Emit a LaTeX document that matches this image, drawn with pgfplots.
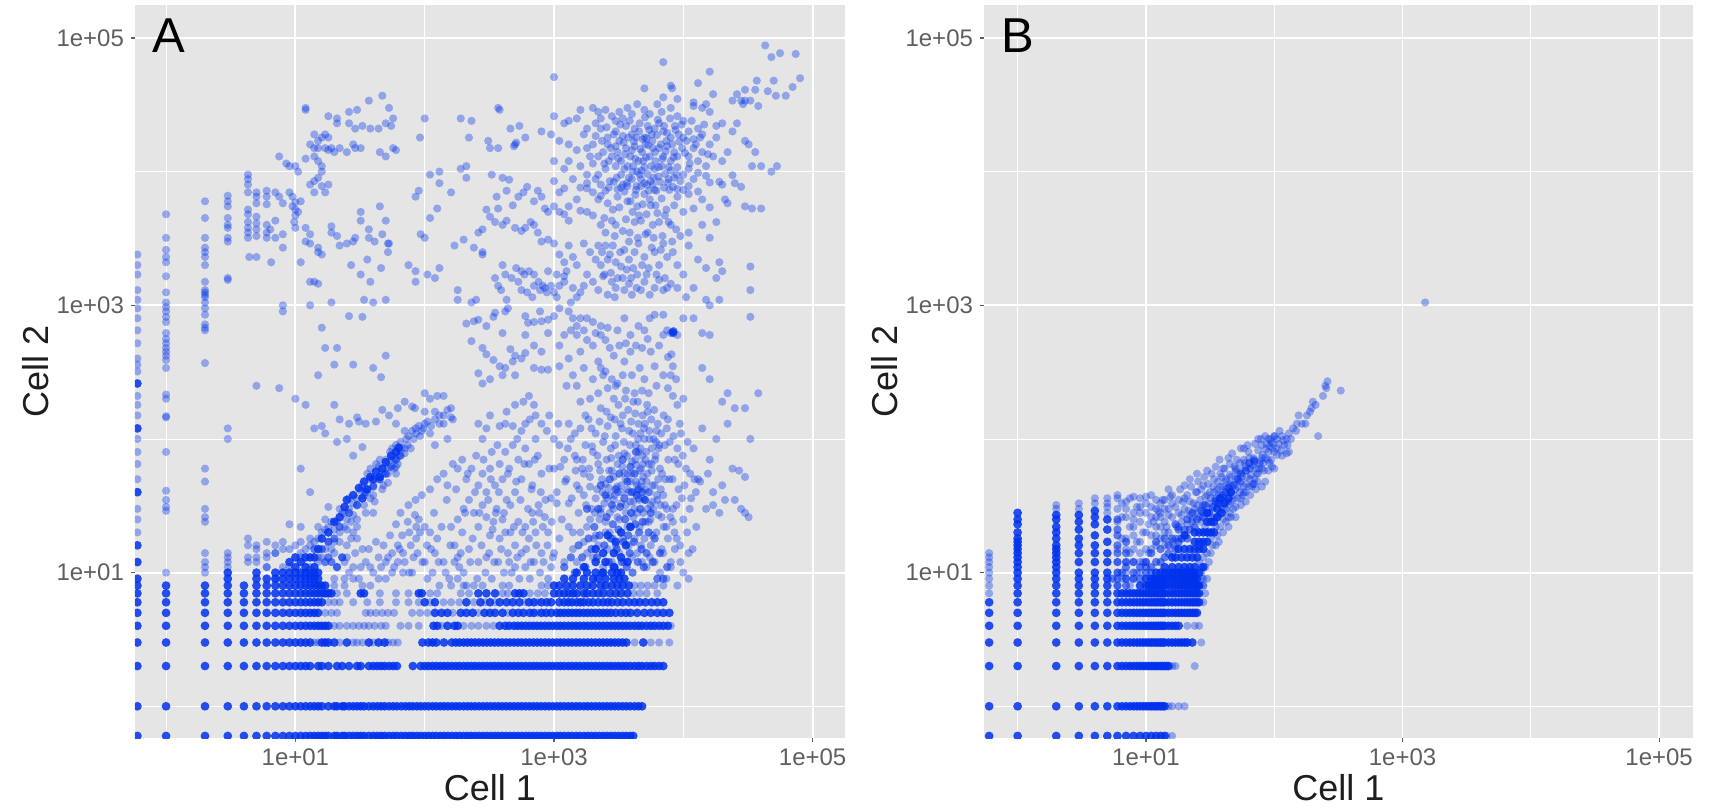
\documentclass[border=0pt]{standalone}
\usepackage{fontspec}
\setmainfont{Liberation Sans}
\usepackage{pgfplots}
\pgfplotsset{compat=1.18}
\definecolor{cblue}{RGB}{0,50,238}
\definecolor{tickc}{RGB}{95,95,95}
\definecolor{labc}{RGB}{30,30,30}
\pgfplotsset{
  lite/.style={only marks,color=cblue,mark=*,mark size=2.05pt,forget plot,
    mark options={draw=cblue,draw opacity=0,fill=cblue,fill opacity=0.36}},
  mid/.style={only marks,color=cblue,mark=*,mark size=2.1pt,forget plot,
    mark options={draw=cblue,draw opacity=0,fill=cblue,fill opacity=0.6}},
  dense/.style={only marks,color=cblue,mark=*,mark size=2.2pt,forget plot,
    mark options={draw=cblue,draw opacity=0,fill=cblue,fill opacity=0.85}},
}
\begin{document}
\begin{tikzpicture}
\path[use as bounding box] (0,0) rectangle (854.5pt,405pt);
\begin{axis}[scale only axis, width=355pt, height=366.5pt,
    xmode=log, ymode=log,
    ymin=0.579, ymax=176600,
    xtick={10,1000,100000}, xticklabels={1e+01,1e+03,1e+05},
    ytick={10,1000,100000}, yticklabels={1e+01,1e+03,1e+05},
    minor xtick={1,100,10000}, minor ytick={1,100,10000},
    grid=both,
    major grid style={white,line width=0.9pt},
    minor grid style={white,line width=0.45pt},
    axis background/.style={fill=black!10},
    axis line style={draw=none},
    xtick pos=bottom, ytick pos=left, tick align=outside,
    major tick length=2pt, minor tick length=0pt,
    tick style={tickc,line width=0.6pt},
    tick label style={font=\fontsize{12}{12}\selectfont,text=tickc},
    xlabel={Cell 1}, ylabel={Cell 2},
    label style={font=\fontsize{18}{18}\selectfont,text=labc},
    xlabel style={at={(axis description cs:0.5,0)},anchor=north,yshift=-18pt,inner sep=0pt},
    ylabel style={at={(axis description cs:0,0.5)},anchor=south,yshift=43pt,inner sep=0pt},
    clip marker paths=true,
    at={(67.5pt,36pt)},anchor=south west,xmin=0.575,xmax=178000,/pgf/number format/assume math mode=true]
\addplot[dense] coordinates {
(0.6,0.6)(1,0.6)(2,0.6)(3,0.6)(4,0.6)(5,0.6)(6,0.6)(7,0.6)(8,0.6)(9,0.6)(10,0.6)(11,0.6)(12,0.6)(13,0.6)(14,0.6)(15,0.6)(16,0.6)(17,0.6)(18,0.6)(20,0.6)(21,0.6)(23,0.6)(24,0.6)(26,0.6)(28,0.6)(30,0.6)(32,0.6)(34,0.6)(37,0.6)(40,0.6)(43,0.6)(46,0.6)(49,0.6)(53,0.6)(57,0.6)(61,0.6)(66,0.6)(71,0.6)(76,0.6)(81,0.6)(87,0.6)(93,0.6)(100,0.6)(107,0.6)(115,0.6)(123,0.6)(132,0.6)(141,0.6)(151,0.6)(162,0.6)(174,0.6)(186,0.6)(200,0.6)(214,0.6)(229,0.6)(245,0.6)(263,0.6)(282,0.6)(302,0.6)(324,0.6)(347,0.6)(372,0.6)(398,0.6)(427,0.6)(457,0.6)(490,0.6)(525,0.6)(562,0.6)(603,0.6)(646,0.6)(692,0.6)(741,0.6)(794,0.6)(851,0.6)(912,0.6)(977,0.6)(1050,0.6)(1120,0.6)(1200,0.6)(1290,0.6)(1380,0.6)(1480,0.6)(1580,0.6)(1700,0.6)(1820,0.6)(1950,0.6)(2090,0.6)(2240,0.6)(2400,0.6)(2570,0.6)(2750,0.6)(2950,0.6)(3160,0.6)(3390,0.6)(3630,0.6)(3890,0.6)(4100,0.6)
(0.6,1)(1,1)(2,1)(3,1)(4,1)(5,1)(6,1)(7,1)(8,1)(9,1)(10,1)(11,1)(12,1)(13,1)(14,1)(15,1)(16,1)(18,1)(20,1)(21,1)(23,1)(24,1)(26,1)(28,1)(30,1)(32,1)(34,1)(37,1)(40,1)(43,1)(46,1)(49,1)(53,1)(57,1)(61,1)(66,1)(71,1)(76,1)(81,1)(87,1)(93,1)(100,1)(107,1)(115,1)(123,1)(132,1)(141,1)(151,1)(162,1)(174,1)(186,1)(200,1)(214,1)(229,1)(245,1)(263,1)(282,1)(302,1)(324,1)(347,1)(372,1)(398,1)(427,1)(457,1)(490,1)(525,1)(562,1)(603,1)(646,1)(692,1)(741,1)(794,1)(851,1)(912,1)(977,1)(1050,1)(1120,1)(1200,1)(1290,1)(1380,1)(1480,1)(1580,1)(1700,1)(1820,1)(1950,1)(2090,1)(2240,1)(2400,1)(2570,1)(2750,1)(2950,1)(3160,1)(3390,1)(3630,1)(3890,1)(4200,1)(4500,1)(4800,1)
(0.6,2)(1,2)(2,2)(3,2)(4,2)(5,2)(6,2)(7,2)(8,2)(9,2)(10,2)(11,2)(12,2)(13,2)(15,2)(16,2)(18,2)(21,2)(23,2)(26,2)(30,2)(32,2)(37,2)(40,2)(43,2)(46,2)(49,2)(53,2)(57,2)(61,2)(81,2)(93,2)(100,2)(107,2)(115,2)(123,2)(132,2)(141,2)(151,2)(162,2)(174,2)(186,2)(200,2)(214,2)(229,2)(245,2)(263,2)(282,2)(302,2)(324,2)(347,2)(372,2)(398,2)(427,2)(457,2)(490,2)(525,2)(562,2)(603,2)(646,2)(692,2)(741,2)(794,2)(851,2)(912,2)(977,2)(1050,2)(1120,2)(1200,2)(1290,2)(1380,2)(1480,2)(1580,2)(1700,2)(1820,2)(1950,2)(2090,2)(2240,2)(2400,2)(2570,2)(2750,2)(2950,2)(3160,2)(3390,2)(3630,2)(3890,2)(4200,2)(4500,2)(4800,2)(5200,2)(5600,2)(6000,2)(6500,2)(7000,2)
(0.6,3)(1,3)(2,3)(3,3)(4,3)(5,3)(6,3)(7,3)(8,3)(9,3)(10,3)(11,3)(12,3)(13,3)(16,3)(17,3)(18,3)(20,3)(25,3)(37,3)(44,3)(49,3)(96,3)(107,3)(115,3)(123,3)(141,3)(162,3)(174,3)(186,3)(200,3)(214,3)(229,3)(245,3)(263,3)(282,3)(302,3)(324,3)(347,3)(372,3)(398,3)(427,3)(457,3)(490,3)(525,3)(562,3)(603,3)(646,3)(692,3)(741,3)(794,3)(851,3)(912,3)(977,3)(1050,3)(1120,3)(1200,3)(1290,3)(1380,3)(1480,3)(1580,3)(1700,3)(1820,3)(1950,3)(2090,3)(2240,3)(2400,3)(2570,3)(2750,3)(2950,3)(3160,3)(3390,3)(3630,3)(4900,3)
(0.6,4)(1,4)(2,4)(3,4)(4,4)(5,4)(6,4)(7,4)(8,4)(9,4)(10,4)(11,4)(12,4)(13,4)(14,4)(15,4)(16,4)(17,4)(18,4)(117,4)(125,4)(150,4)(170,4)(180,4)(380,4)(420,4)(450,4)(490,4)(525,4)(562,4)(603,4)(646,4)(692,4)(741,4)(794,4)(851,4)(912,4)(977,4)(1050,4)(1120,4)(1200,4)(1290,4)(1380,4)(1480,4)(1580,4)(1700,4)(1820,4)(1950,4)(2090,4)(2240,4)(2400,4)(2570,4)(2750,4)(2950,4)(3160,4)(3390,4)(3630,4)(3890,4)(4200,4)(4500,4)(4800,4)(5200,4)(5600,4)(6000,4)(6500,4)(7000,4)(7600,4)
(0.6,5)(1,5)(2,5)(3,5)(4,5)(5,5)(6,5)(7,5)(8,5)(9,5)(10,5)(11,5)(12,5)(13,5)(14,5)(15,5)(120,5)(135,5)(150,5)(190,5)(210,5)(235,5)(290,5)(320,5)(350,5)(400,5)(480,5)(530,5)(580,5)(650,5)(700,5)(800,5)(870,5)(950,5)(1050,5)(1120,5)(1200,5)(1290,5)(1380,5)(1480,5)(1580,5)(1700,5)(1820,5)(1950,5)(2090,5)(2240,5)(2400,5)(2570,5)(2750,5)(3000,5)(3300,5)(3600,5)(3900,5)(4400,5)(5000,5)(5600,5)(6300,5)(7000,5)(7800,5)
(0.6,6)(1,6)(2,6)(3,6)(4,6)(5,6)(6,6)(7,6)(8,6)(9,6)(10,6)(11,6)(12,6)(13,6)(14,6)(15,6)(16,6)(100,6)(120,6)(210,6)(270,6)(320,6)(380,6)(430,6)(480,6)(540,6)(640,6)(700,6)(800,6)(880,6)(950,6)(1100,6)(1200,6)(1290,6)(1380,6)(1500,6)(1600,6)(1700,6)(1850,6)(2000,6)(2200,6)(2400,6)(2600,6)(2800,6)(3100,6)(3400,6)(3800,6)(4200,6)(4600,6)(5100,6)(5700,6)(6300,6)(7000,6)
(0.6,7)(2,7)(3,7)(4,7)(5,7)(6,7)(7,7)(8,7)(9,7)(10,7)(11,7)(12,7)(13,7)(14,7)(15,7)(16,7)(17,7)(18,7)(19,7)(32,7)(34,7)(90,7)(95,7)(260,7)(300,7)(350,7)(500,7)(540,7)(580,7)(1000,7)(1100,7)(1200,7)(1300,7)(1400,7)(1500,7)(1700,7)(1800,7)(2000,7)(2200,7)(2400,7)(2700,7)(3000,7)(3300,7)(3700,7)
(2,8)(3,8)(4,8)(5,8)(6,8)(7,8)(8,8)(9,8)(10,8)(11,8)(12,8)(13,8)(14,8)(15,8)(16,8)(17,8)(1000,8)(1100,8)(1250,8)(1400,8)(1600,8)(1800,8)(2000,8)(2300,8)(2500,8)(2800,8)(3100,8)(3400,8)(3800,8)
(3,9)(5,9)(6,9)(7,9)(8,9)(9,9)(10,9)(11,9)(12,9)(13,9)(14,9)(15,9)(1200,9)(1400,9)(1700,9)(2000,9)(2200,9)(2500,9)(2900,9)(3200,9)(3500,9)
(3,10)(5,10)(7,10)(8,10)(9,10)(10,10)(11,10)(12,10)(13,10)(14,10)(15,10)(1500,10)(1800,10)(2100,10)(2400,10)(2800,10)(3100,10)(3300,10)(2900,11)(2500,12)(2100,12)(1700,11)(2400,14)(2900,14)(3300,13)(3700,12)(3000,17)(3600,16)(3300,20)(3900,22)(2600,19)(2100,15)
(10,11)(11,12)(12,11)(13,13)(9,12)(14,11)(14,13)(12,13)(10,13)(15,15)(16,18)(18,20)(20,24)(22,26)(24,31)(25,35)(28,38)(31,43)(34,48)(38,52)(42,57)(47,60)(50,67)(55,75)(60,80)(63,86)(40,50)(45,52)(36,42)(33,36)
(0.6,8)(0.6,9)(0.6,12)(0.6,16)(0.6,40)(0.6,120)(0.6,260)(1,7)(1,8)
};
\addplot[mid] coordinates {
(1200,11)(1350,13)(1450,10)(1550,16)(1650,13)(1750,11)(1850,18)(1950,15)(2050,22)(2150,13)(2250,19)(2350,10)(2450,16)(2550,26)(2650,12)(2750,18)(2850,23)(2950,11)(3050,15)(3150,21)(3250,31)(3350,12)(3450,17)(3550,25)(3650,11)(3750,19)(3850,14)(3950,28)(4050,10)(4150,17)(4250,23)(4350,38)(4450,12)(4550,20)(4650,30)(4750,15)(4850,24)(4950,11)(5050,35)(5200,14)(5400,20)(5600,28)(5800,12)(6000,18)(6300,9)(6600,14)(7000,9)(7500,11)(2200,30)(2500,38)(2800,32)(3000,42)(3200,55)(3500,36)(3700,48)(4000,40)(4200,55)(4500,42)(4800,40)(3400,70)(3900,62)(4300,80)(2300,45)(2700,50)(1800,30)
(8300,630)(8400,640)(8350,620)(21,11)(23,13)(18,13)(16,15)(20,18)(22,22)(26,28)(30,32)(35,40)(40,44)(45,50)(50,55)(55,62)(60,70)(65,75)(14,15)(18,17)(17,12)(19,12)
};
\addplot[lite] coordinates {
(12,30000)(12,29000)(18,26000)(21,25000)(26,28000)(30,29000)(37,34000)(47,37000)(53,30000)(57,25000)(21,23000)(26,23000)(29,21000)(33,22000)(38,21000)(44,21000)(50,23000)(55,22000)
(14,19000)(15,17000)(16,18000)(17,19000)(18,18000)(19,15000)(13,16000)(14,15000)(15,15000)(17,15000)(18,14500)(20,14000)(22,15000)(25,14000)(28,16000)(29,15000)(32,15000)(45,14000)(50,13000)(57,15000)(60,14500)(14,13000)(15,12000)(12,12500)
(9,11000)(10,11000)(10.5,10000)(7.5,13000)(8.5,11500)(4.3,9500)(4.3,8800)(4.3,8000)(4.3,7000)(5,7000)(5,6500)(5,5800)(6,7200)(6,6500)(6,5700)(7,7000)(7.5,6500)(8,5800)
(16,11000)(16,10000)(15,9000)(14,8500)(16,7800)(18,8000)(17,7000)(14,7000)(13,8000)(9,7000)(9.5,6500)(10,5900)(10,5200)(10,4700)(9.5,5500)(10.5,5000)(11,6000)(9.8,4200)(10,3800)
(3,6600)(3,6000)(3,5500)(3,4500)(3,4000)(3,3800)(3,3200)(3,3000)(3,1600)(3,1550)(4.3,5200)(4.3,4800)(4.3,4200)(4.3,3800)(4.3,3500)(4.3,3200)(5,4600)(5,4100)(5,3700)(5,3300)(5,2300)(4.4,2300)(6,4000)(6,3500)(6,3200)(6.4,3700)(7,4300)(7,3200)(8,3400)(8,2700)(6.5,2100)
(12,3800)(12,3000)(13,3400)(13,2900)(15,2700)(15,2500)(16,2400)(19,3900)(19,3500)(21,3300)(22,2800)(25,2900)(28,3000)(29,3200)(32,5000)(32,4300)(37,3700)(37,3200)(41,3000)(45,5500)(47,3400)(50,4300)(52,2900)(52,2500)
(27,2000)(32,1700)(36,2200)(38,1500)(46,1900)(50,1100)(53,2900)(15,1450)(13,1500)(14,1500)(11,2100)(8,1000)(8,900)(13,1000)
(19,1050)(26,830)(33,820)(34,1100)(40,1050)(16,680)(17,480)(21,480)(15,300)(20,360)(28,360)(40,340)(46,290)(50,420)(7.5,240)(5,250)(10,200)(12,180)(20,180)(22,140)(30,145)(35,130)
(100,25000)(92,18000)(190,25000)(230,24000)(220,18000)(370,30000)(380,29000)(460,21000)(540,22000)(310,17000)(370,15000)(500,16000)(510,16500)(490,15500)(600,18000)(320,15000)(210,11000)(190,10500)(130,10000)(110,9500)(130,8200)(160,7000)(210,9000)(90,7200)(85,6500)(125,5300)(110,4500)(100,3200)(93,3400)
(330,9500)(400,9000)(450,8700)(360,6500)(430,7200)(370,5300)(480,5600)(530,6500)(580,7000)(620,7700)(300,5200)(320,4600)(350,4200)(400,4000)(430,4300)(500,3800)(560,3600)(600,3800)(660,4200)(700,4000)(750,3500)
(170,2800)(200,3100)(280,2500)(240,2700)(260,3500)(280,3700)(130,1900)(105,1700)(120,1600)(75,2000)(85,1800)(85,1500)(180,1300)(180,1100)(230,1050)(250,1100)(400,2000)(420,1700)(510,1900)(560,1800)(590,1700)(640,1800)(700,1700)
(530,1500)(560,1300)(620,1250)(700,1400)(680,1150)(760,1500)(820,1400)(780,1300)(850,1350)(880,1250)(950,1400)(1000,1250)(1050,1150)(1100,1400)(1200,1500)(1400,1350)(1500,1150)(1350,1050)(1600,1250)(1700,1400)
(280,2400)(350,1600)(370,1400)(390,1300)(470,1600)(430,1100)(420,900)(210,730)(240,760)(260,780)(300,700)(340,820)(350,880)(400,620)(440,950)(600,830)(630,740)(700,750)(800,760)(780,900)(900,780)(1000,830)(1100,950)(1300,900)(1400,800)(1500,600)(1600,800)(1800,800)(2000,750)(2300,700)(2600,680)(3100,650)(3500,800)(3900,600)(4500,700)(5000,650)(5500,800)(6000,850)(7000,850)(7500,650)(8000,620)(9000,600)(10000,800)(12000,800)(14000,620)(16000,600)
(230,540)(280,480)(300,430)(460,470)(500,420)(560,400)(480,380)(600,440)(420,340)(380,350)(340,390)(260,310)(280,260)(320,280)(400,300)(500,300)(700,340)(800,330)(900,330)(1100,350)(1300,400)(1400,300)(1500,250)(1700,340)(2000,280)(2300,340)(2500,320)(2800,280)(3100,260)(3500,380)(4000,300)(4600,340)(5000,280)(6000,350)(7000,300)(7600,410)(8100,430)(8300,350)(7600,240)(8300,210)(9000,180)(10000,200)(14000,340)(16000,280)(20000,190)(22000,220)(25000,170)(30000,170)(38000,220)
(1100,7000)(1300,5500)(1500,6200)(1800,7500)(2100,8800)(2300,6600)(2600,5800)(3100,6500)(3500,7100)(3900,6000)(4400,5500)(5000,6800)(5500,6200)(6000,7300)(6800,6300)(7800,7300)(8500,5600)(9000,6500)(11000,6800)(10000,5000)(12000,5300)(14000,6200)(16000,5400)(30000,5500)(34000,5300)(40000,5300)
(700,6000)(750,7200)(800,6500)(850,5300)(900,5000)(1000,5500)(1100,5000)(1200,4800)(1300,4300)(1600,5100)(1800,5000)(2000,4700)(2300,4000)(2500,3500)(2800,4300)(3000,4000)(3400,3600)(3800,3000)(4200,4200)(4700,4300)(5300,3500)(5800,4000)(6300,4900)(7200,4700)(8000,4000)(8800,3700)(9500,3300)(11000,3500)(14000,4000)(16000,3200)(18000,4200)
(800,3000)(900,3100)(1000,2900)(1100,2400)(1200,2100)(1300,2800)(1400,2300)(1500,2000)(1700,2900)(1900,2500)(2100,2200)(2300,2000)(2500,2800)(2700,2400)(3000,2100)(3300,1950)(3500,2600)(3800,2200)(4100,1900)(4500,2900)(5000,2300)(5400,1900)(6000,2500)(6500,2000)(7000,2900)(7500,2300)(8300,2500)(9000,2000)(10000,1700)(11000,2800)(13000,2200)(15000,1900)(18000,1600)(19000,2100)(20000,1800)(33000,1950)
(900,1800)(1050,1700)(1200,1650)(1250,1800)(1800,1700)(2000,1500)(2200,1300)(2400,1650)(2600,1200)(2800,1500)(3000,1350)(3400,1600)(3800,1450)(4000,1200)(4400,1700)(4700,1300)(5000,1500)(5500,1200)(6000,1350)(6500,1550)(7000,1300)(7500,1350)(8000,1450)(9000,1350)(10500,1150)(12000,1350)(33000,1300)(16000,1000)(19000,1100)(15000,1100)(33000,820)
(2100,23000)(1800,21000)(1300,24000)(1500,25000)(1000,26000)(1200,23000)(800,20000)(950,19000)(2000,30000)(2500,29000)(2800,26000)(3000,24000)(3400,25000)(3700,30000)(4000,27000)(4400,32000)(5000,29000)(5500,27000)(6300,32000)(6800,28000)(8000,30000)(9000,26000)(10000,24000)(12000,31000)(14000,30000)(16000,28000)(18000,22000)(20000,23000)(24000,20000)(26000,23000)(30000,17000)(32000,16000)
(2300,21000)(2600,18000)(3000,20000)(3200,17000)(3600,22000)(4000,19000)(4200,21000)(4600,23000)(5000,18000)(5300,22000)(5700,19000)(6000,21000)(6500,23000)(7000,20000)(7400,17000)(8000,18000)(8600,22000)(9200,19000)(10000,18000)(11000,20000)(12000,17500)(13000,21000)(14000,19000)(16000,16000)(18000,18000)(40000,11000)(48000,10000)(53000,11000)(36000,14000)(34000,11000)
(1100,17000)(1300,16000)(1500,14500)(1800,15000)(2000,16000)(2200,13000)(2400,14000)(2600,16000)(2800,13000)(3100,14000)(3300,12000)(3600,15000)(3900,13000)(4200,15500)(4500,12000)(4800,14000)(5100,16000)(5500,13000)(5800,15000)(6100,12000)(6500,15000)(7000,13000)(7500,15500)(8000,12000)(8500,14000)(9000,13000)(9800,15000)(11000,13000)(12000,15000)(13000,12000)(14000,14000)(15000,11000)(17000,13000)(20000,12000)(22000,14000)
(1000,12000)(1200,10500)(1300,12000)(1600,11000)(1800,9500)(2000,11500)(2200,9500)(2500,10500)(2700,8500)(3000,11000)(3300,9500)(3500,10500)(3800,9000)(4100,11000)(4400,10000)(4700,8800)(5000,10800)(5300,9600)(5600,8500)(6000,10500)(6400,9200)(6800,11000)(7200,9600)(7600,8300)(8000,10200)(8500,9000)(9000,10800)(9500,8500)(10000,9500)(11000,10500)(12000,8800)(13000,9800)(15000,9300)(16000,8300)(19000,8400)(20000,8000)(24000,9400)(25000,8200)(28000,7700)
(1000,8500)(1200,7500)(1400,8800)(1600,7600)(1800,8200)(2000,7000)(2300,8000)(2500,7200)(2900,8400)(3100,7400)(3400,8000)(3700,7800)(4000,8800)(4300,7300)(4700,7800)(5000,8200)(5400,7200)(5800,8000)(6200,7200)(6600,8400)(7100,7600)(7700,8800)(8300,7700)(9000,7400)(10000,7300)(11000,7800)(13000,7100)(21000,6200)(22000,5800)
(45000,40000)(52000,37000)(62000,37000)(70000,43000)(50000,48000)(80000,50000)(74000,76000)(56000,77000)(43000,88000)(48000,72000)(37000,48000)(30000,41000)(26000,38000)(28000,34000)(33000,34000)(36000,41000)(16000,56000)(7000,66000)(13000,46000)(8000,44000)(8200,42000)(1000,51000)
(5000,42000)(7000,36000)(9000,35000)(12000,33000)(15000,32000)(17000,38000)(30000,34000)(38000,31000)(24000,34000)(29000,32000)(3200,28000)(2200,28000)(1600,29000)
(1700,19000)(1900,13000)(2100,18500)(2300,25000)(2450,11500)(2550,21500)(2750,15000)(2900,19000)(3050,9000)(3150,12500)(3250,22500)(3450,16500)(3550,13500)(3650,8200)(3750,18000)(3850,24000)(4050,10000)(4150,16800)(4250,12500)(4350,7800)(4550,20000)(4650,14800)(4750,10200)(4850,17500)(5050,25500)(5150,12800)(5250,8000)(5350,15800)(5450,20500)(5650,11000)(5750,17000)(5900,9000)(6050,14000)(6250,18800)(6350,24500)(6450,10800)(6700,16000)(6900,12500)(7100,22000)(7300,14200)(7500,19500)(7700,10800)(7900,25000)(8200,16000)(8400,12800)(8700,20500)(8900,9500)(9300,16800)(9700,22500)(10300,13800)(10600,17000)(11200,11500)(11600,24000)(12500,16000)(13500,18000)(14500,22500)(15500,13500)(2350,17000)(2650,12000)(3000,15500)(3400,18500)(3700,11000)(4000,14500)(4300,18000)(4600,9500)(4900,12000)(5200,17800)
(2200,6200)(2450,4500)(2650,7600)(2850,5200)(2950,3300)(3200,5400)(3300,7600)(3600,4400)(3700,6000)(3850,3500)(4050,5000)(4250,6700)(4450,3200)(4550,4700)(4850,5700)(5100,3400)(5200,4800)(5600,5600)(5900,3200)(6100,5600)(6500,4200)(6900,3300)(7400,5200)(7700,4200)(8200,3000)
(2200,2800)(2350,2500)(2450,1700)(2600,2200)(2750,1750)(2850,2800)(2950,1150)(3100,1600)(3250,2500)(3500,1300)(3650,1850)(3950,1600)(4200,2500)(4350,1350)(4800,2000)(5200,1700)(5700,2700)(6200,1700)(6700,2600)(7200,1600)
(600,600)(700,500)(800,450)(900,620)(1100,500)(1250,250)(1350,650)(1600,450)(1800,550)(2000,500)(2200,380)(2400,300)(2500,550)(2700,480)(2900,420)(3200,500)(3400,300)(3600,520)(3900,450)(4300,500)(4800,480)(5300,560)(5600,450)(6500,500)(7000,600)(8000,300)(8800,280)(1200,600)(1500,700)(1700,650)(2100,620)(2300,600)(3000,250)(3600,230)(4200,220)(4800,230)(5400,220)(6200,250)(1600,190)(1900,200)(2200,220)(2600,240)
(11,60)(15,12)(13,40)(14,120)(17,110)(16,125)(26,130)(31,135)(21,95)(25,100)(28,75)(33,87)(42,135)(47,165)(53,150)(60,130)(70,115)(62,170)(70,190)(80,175)(84,170)(100,220)(110,200)(125,210)(140,210)(165,140)(160,145)(100,160)(100,130)(110,110)(130,130)(150,100)(120,160)(140,130)(160,170)(120,90)
(32,41)(36,55)(38,60)(42,65)(44,62)(50,70)(56,85)(60,90)(65,95)(72,100)(75,105)(80,115)(85,120)(90,125)(95,115)(70,85)(62,65)(55,70)(48,45)(52,55)(58,60)(40,38)(34,38)(30,32)(25,25)(28,27)(22,20)(20,21)(18,17)(26,36)(23,28)(20,14)(17,25)(16,13)(15,22)(18,31)(11,17)(11,22)(10,16)(13,18)(25,16)(27,18)(30,18)(33,15)(24,12)(28,11)(32,11)
(45,70)(48,55)(52,62)(54,80)(58,70)(60,62)(63,75)(66,85)(70,78)(74,90)(78,85)(82,100)(86,110)(92,105)(98,120)(105,135)(112,125)(120,140)(130,150)(140,150)(150,165)(44,50)(40,45)(37,50)(35,42)(33,45)(30,36)(28,33)(26,30)(24,28)(22,30)(21,24)(19,24)(18,22)(17,21)(16,20)(15,18)(14,17)(13,16)(12,15)(11,13)(30,25)(27,24)(24,22)(22,17)(20,17)(19,15)(25,21)(17,15)(15,13)(13,11)(34,32)(38,36)(41,34)(47,42)(52,47)(60,55)(40,28)(35,28)(30,22)(25,13)(28,20)
(8,11)(8,15)(8,17)(7,14)(6,11)(6,14)(5,12)(5,16)(11,14)(9,23)(20,9)(24,9)(28,9)(33,8)(38,8)(44,9)(50,9)(56,10)(62,12)(68,10)(38,11)(44,13)(50,12)(56,14)(62,16)(68,14)(76,10)(82,13)(86,18)(76,20)(86,22)(90,25)(100,12)(104,16)(110,20)(100,22)(115,10)(120,14)(125,18)(130,8)(140,12)(145,10)(160,8)(170,12)(180,9)(200,10)(170,16)(190,14)(210,8)
(21,11)(23,13)(26,10)(29,14)(31,9)(35,12)(37,15)(40,10)(42,17)(46,11)(48,16)(52,13)(54,19)(58,11)(60,23)(64,15)(67,19)(70,12)(74,24)(78,16)(80,10)(84,27)(88,14)(92,20)(96,12)
(105,9)(112,15)(118,28)(128,12)(135,22)(148,35)(155,9)(158,16)(175,42)(185,11)(195,20)(205,28)(215,55)(225,12)(235,18)(245,40)(255,9)(265,28)(275,16)(285,70)(295,10)(310,35)(315,14)(325,50)(335,21)(345,12)(355,28)(365,90)(375,40)(390,15)(410,28)(430,35)(440,55)(460,32)(470,10)(490,22)(510,48)(520,13)(550,35)(570,20)(590,65)(610,15)(630,30)(660,12)(670,42)(690,24)(710,70)(730,16)(770,28)(790,40)(820,22)(860,35)(890,16)(920,60)(960,24)(980,13)
(65,28)(75,32)(85,35)(95,38)(110,42)(125,50)(140,55)(150,45)(165,65)(180,60)(195,70)(210,50)(230,60)(250,75)(260,45)(280,55)(300,40)(320,60)(330,80)(350,45)(380,65)(400,50)(420,80)(450,60)(480,90)(500,40)(530,70)(560,50)(600,85)(640,65)(680,45)(720,100)(750,75)(800,55)
(160,22)(180,25)(200,30)(220,35)(240,28)(260,22)(280,32)(300,26)(320,19)(340,24)(360,30)(380,18)(400,25)(420,20)(440,14)(460,20)(500,16)(530,24)(560,14)(600,22)(640,18)(680,28)(720,20)(760,32)(800,14)(850,26)(900,20)(950,36)(180,13)(220,15)(260,12)(300,13)(330,9)(370,12)(410,10)(450,12)(500,11)(540,9)(600,11)(650,9)(700,12)(780,10)(830,12)(900,9)(950,11)
(280,100)(300,120)(260,130)(320,150)(380,125)(420,130)(480,125)(520,100)(560,115)(600,130)(650,140)(720,150)(800,130)(880,115)(920,150)(1000,100)(1080,130)(430,160)(500,180)(580,190)(640,210)(700,180)
(1000,60)(1050,40)(1100,90)(1150,25)(1200,70)(1250,50)(1300,33)(1350,100)(1400,20)(1450,75)(1500,45)(1550,28)(1600,120)(1650,60)(1700,38)(1750,90)(1800,22)(1850,140)(1900,52)(1950,30)(2000,80)(2050,18)(2100,110)(2150,42)(2200,65)(2250,25)(2300,170)(2350,50)(2400,95)(2450,33)(2500,20)(2550,70)(2600,125)(2650,43)(2700,28)(2750,85)(2800,58)(2850,18)(2900,200)(2950,38)(3000,105)(3100,65)(3200,25)(3300,45)(3400,150)(3500,78)(3600,32)(3700,55)(3800,115)(3900,22)(4000,68)(4100,190)(4200,40)(4300,90)(4400,28)(4500,130)(4600,58)(4700,16)(4800,75)(4900,36)(5000,100)(5100,24)(5200,48)(5300,160)(5400,65)(5500,13)(5600,32)(5700,85)(5800,19)(6000,45)(6200,115)(6400,27)(6600,60)(6800,15)(7000,38)(7200,90)(7400,22)(7600,140)(7800,50)(8000,12)(8300,30)(8600,70)(8900,18)(9200,42)(9600,110)(10000,25)(10500,60)(11000,14)(11500,36)(12000,85)(12600,22)(13000,50)(14000,120)(15000,30)(16000,70)(17000,40)(18000,100)(20000,45)(22000,130)(24000,60)(27000,58)(30000,52)(33000,100)
(1000,14)(1100,18)(1200,12)(1300,22)(1400,15)(1500,12)(1600,20)(1700,17)(1800,14)(1900,25)(2000,13)(2100,19)(2200,16)(2300,28)(2400,11)(2500,24)(2600,15)(2700,20)(2800,12)(2900,35)(3000,16)(3100,26)(3200,14)(3300,40)(3400,18)(3500,12)(3600,28)(3700,22)(3800,16)(3900,34)(4000,13)(4100,26)(4200,18)(4300,48)(4400,14)(4500,36)(4600,22)(4700,60)(4800,12)(4900,28)(5000,18)(5100,42)(5200,11)(5400,24)(5600,16)(5800,34)(6000,12)(6200,20)(6400,50)(6600,10)(6800,26)(7000,14)(7200,32)(7400,9)(7600,18)(8000,11)(8300,24)(8600,15)(9000,8)(9500,12)(10000,10)(11000,9)
(1500,70)(1700,55)(1900,44)(2100,36)(2300,30)(2500,46)(2700,38)(2900,52)(3100,40)(3300,33)(3500,56)(3700,42)(3900,48)(4100,34)(4300,64)(4500,80)(4700,44)(4900,52)(5100,70)(5300,30)(5500,40)(5700,58)(5900,100)(6100,75)(6300,35)(6500,90)(6700,42)
(1300,130)(1450,110)(1750,150)(1950,120)(2250,135)(2550,160)(2750,145)(2950,140)(3150,180)(3350,120)(3550,200)(3750,165)(3950,135)(4250,155)(4450,190)(4650,110)(4850,150)(5050,130)(5250,180)(5450,115)(5650,140)(5950,165)(6150,95)(6350,130)(6750,110)(7050,150)(7450,120)(7850,95)(8400,105)(9000,85)(9400,130)(9900,75)(10800,95)(11300,55)(12500,40)(13500,48)(15500,55)(17000,32)(19000,28)(21000,35)(25000,35)(28000,30)(30000,28)(32000,26)
(1050,33)(1120,62)(1220,48)(1280,85)(1370,36)(1470,58)(1570,42)(1670,70)(1770,32)(1870,60)(1970,88)(2070,28)(2170,75)(2270,58)(2370,40)(2470,105)(2570,36)(2670,58)(2770,72)(2870,30)(2970,90)(3070,44)(3170,75)(3270,130)(3370,62)(3470,95)(3570,50)(3670,75)(3770,40)(3870,90)(3970,55)(4070,110)(4170,30)(4270,70)(4370,45)(4470,100)(4570,35)(4670,85)(4770,48)(4870,65)(4970,120)(5070,35)(5170,80)(5270,55)(5370,40)(5470,100)(5570,25)(5670,65)(5770,45)(5870,30)(6050,70)(6250,38)(6450,85)(6650,32)(6850,55)(7050,22)(7250,50)(7450,30)(7650,70)(7950,26)(8250,50)(8550,20)(8850,32)(9150,65)(9450,16)(9750,36)(10200,45)(10700,20)(11200,30)(11800,15)(12200,50)
(14,3)(15,3)(22,3)(28,3)(30,3)(33,3)(40,3)(52,3)(57,3)(62,3)(4200,3)(5600,3)(6500,3)(7800,3)
(20,4)(22,4)(25,4)(28,4)(31,4)(34,4)(37,4)(41,4)(46,4)(50,4)(65,4)(75,4)(90,4)(135,4)(200,4)(230,4)(260,4)(300,4)(340,4)(8000,4)
(17,5)(19,5)(21,5)(35,5)(38,5)(42,5)(47,5)(52,5)(58,5)(80,5)(92,5)(105,5)(165,5)(260,5)(440,5)(750,5)
(18,6)(20,6)(22,6)(28,6)(36,6)(45,6)(60,6)(75,6)(90,6)(110,6)(140,6)(160,6)(185,6)(240,6)(295,6)(350,6)(600,6)(750,6)
(21,7)(25,7)(45,7)(60,7)(75,7)(110,7)(125,7)(190,7)(220,7)(400,7)(440,7)(650,7)(750,7)(850,7)(4100,7)(4600,7)(5200,7)(6300,7)
(20,8)(24,8)(200,8)(240,8)(280,8)(400,8)(450,8)(800,8)(900,8)(4200,8)(4700,8)(5300,8)(6000,8)(7000,8)
(1,4800)(1,3200)(1,2600)(1,2300)(1,2100)(1,1650)(1,1250)(1,1050)(1,970)(1,900)(1,820)(1,750)(1,620)(1,560)(1,520)(1,480)(1,450)(1,420)(1,390)(1,340)(1,215)(1,200)(1,145)(1,148)(1,80)(1,41)(1,35)(1,31)(1,29)(1,10)
(2,6000)(2,4500)(2,3200)(2,2700)(2,2500)(2,2300)(2,2000)(2,1500)(2,1300)(2,1250)(2,1200)(2,1150)(2,1050)(2,950)(2,850)(2,720)(2,680)(2,650)(2,370)(2,60)(2,48)(2,30)(2,26)(2,24)(2,14)(2,12)(2,11)(2,10)
(3,120)(3,100)(3,14)(3,13)(3,12)(3,11)(4.3,12)(4.3,13)(4.3,16)(4.3,18)(5,13)(5,15)(6,11)(6,13)(6,17)(7,14)(7,16)(7,9)(9,15)(9,11)
(0.6,2400)(0.6,2000)(0.6,1700)(0.6,1300)(0.6,1100)(0.6,950)(0.6,800)(0.6,650)(0.6,520)(0.6,400)(0.6,360)(0.6,320)(0.6,210)(0.6,180)(0.6,150)(0.6,100)(0.6,80)(0.6,65)(0.6,50)(0.6,30)(0.6,25)(0.6,20)
};
\node[font=\fontsize{24.5}{24.5}\selectfont,text=black,anchor=center] at (axis cs:1.05,105000) {A};
\end{axis}
\begin{axis}[scale only axis, width=354.5pt, height=366.5pt,
    xmode=log, ymode=log,
    ymin=0.579, ymax=176600,
    xtick={10,1000,100000}, xticklabels={1e+01,1e+03,1e+05},
    ytick={10,1000,100000}, yticklabels={1e+01,1e+03,1e+05},
    minor xtick={1,100,10000}, minor ytick={1,100,10000},
    grid=both,
    major grid style={white,line width=0.9pt},
    minor grid style={white,line width=0.45pt},
    axis background/.style={fill=black!10},
    axis line style={draw=none},
    xtick pos=bottom, ytick pos=left, tick align=outside,
    major tick length=2pt, minor tick length=0pt,
    tick style={tickc,line width=0.6pt},
    tick label style={font=\fontsize{12}{12}\selectfont,text=tickc},
    xlabel={Cell 1}, ylabel={Cell 2},
    label style={font=\fontsize{18}{18}\selectfont,text=labc},
    xlabel style={at={(axis description cs:0.5,0)},anchor=north,yshift=-18pt,inner sep=0pt},
    ylabel style={at={(axis description cs:0,0.5)},anchor=south,yshift=43pt,inner sep=0pt},
    clip marker paths=true,
    at={(492pt,36pt)},anchor=south west,xmin=0.547,xmax=183700,/pgf/number format/assume math mode=true]
\addplot[dense] coordinates {
(0.6,0.6)(1,0.6)(2,0.6)(3,0.6)(4,0.6)(5,0.6)(6,0.6)(7,0.6)(8,0.6)(9,0.6)(10,0.6)(11,0.6)(12,0.6)(13,0.6)(14,0.6)
(0.6,1)(1,1)(2,1)(3,1)(4,1)(5,1)(6,1)(6.5,1)(7,1)(7.5,1)(8,1)(8.5,1)(9,1)(9.5,1)(10,1)(10.5,1)(11,1)(11.5,1)(12,1)(12.5,1)(13,1)(13.5,1)(14,1)
(0.6,2)(1,2)(2,2)(3,2)(4,2)(5,2)(6,2)(6.5,2)(7,2)(7.5,2)(8,2)(8.5,2)(9,2)(9.5,2)(10,2)(10.5,2)(11,2)(11.5,2)(12,2)(12.5,2)(13,2)(13.5,2)(14,2)(14.5,2)(15,2)
(0.6,3)(1,3)(2,3)(3,3)(4,3)(5,3)(6,3)(6.5,3)(7,3)(7.5,3)(8,3)(8.5,3)(9,3)(9.5,3)(10,3)(10.5,3)(11,3)(11.5,3)(12,3)(12.5,3)(13,3)(13.5,3)(14,3)(15,3)(16,3)(17,3)(18,3)(19,3)(20,3)(21,3)(23,3)
(0.6,4)(1,4)(2,4)(3,4)(4,4)(5,4)(6,4)(6.5,4)(7,4)(7.5,4)(8,4)(8.5,4)(9,4)(9.5,4)(10,4)(10.5,4)(11,4)(11.5,4)(12,4)(12.5,4)(13,4)(13.5,4)(14,4)(15,4)(16,4)(17,4)(18,4)
(0.6,5)(1,5)(2,5)(3,5)(4,5)(5,5)(6,5)(6.5,5)(7,5)(7.5,5)(8,5)(8.5,5)(9,5)(9.5,5)(10,5)(10.5,5)(11,5)(11.5,5)(12,5)(12.5,5)(13,5)(13.5,5)(14,5)(15,5)(16,5)(17,5)(18,5)(19,5)(20,5)(21,5)(22,5)(23,5)(24,5)(25,5)
(0.6,6)(1,6)(2,6)(3,6)(4,6)(5,6)(6,6)(6.5,6)(7,6)(7.5,6)(8,6)(8.5,6)(9,6)(9.5,6)(10,6)(10.5,6)(11,6)(11.5,6)(12,6)(12.5,6)(13,6)(13.5,6)(14,6)(15,6)(16,6)(17,6)(18,6)(19,6)(20,6)(21,6)(22,6)(23,6)(24,6)(25,6)(26,6)
(1,7)(2,7)(3,7)(4,7)(5,7)(6,7)(6.5,7)(7,7)(7.5,7)(8,7)(8.5,7)(9,7)(9.5,7)(10,7)(10.5,7)(11,7)(11.5,7)(12,7)(12.5,7)(13,7)(13.5,7)(14,7)(15,7)(16,7)(17,7)(18,7)(19,7)(20,7)(21,7)(22,7)(23,7)(24,7)(25,7)(26,7)
(1,8)(2,8)(3,8)(4,8)(5,8)(9,8)(10,8)(10.5,8)(11,8)(11.5,8)(12,8)(12.5,8)(13,8)(13.5,8)(14,8)(15,8)(16,8)(17,8)(18,8)(19,8)(20,8)(21,8)(22,8)(23,8)(24,8)(25,8)(26,8)
(1,9)(2,9)(3,9)(4,9)(5,9)(10,9)(11,9)(11.5,9)(12,9)(12.5,9)(13,9)(13.5,9)(14,9)(15,9)(16,9)(17,9)(18,9)(19,9)(20,9)(21,9)(22,9)(23,9)(24,9)(25,9)
(1,10)(2,10)(3,10)(4,10)(5,10)(12,10)(13,10)(14,10)(15,10)(16,10)(17,10)(18,10)(19,10)(20,10)(21,10)(22,10)(23,10)(24,10)(26,10)(28,11)
(1,11)(1,12)(1,13)(1,14)(1,15)(1,16)(1,17)(1,18)(1,20)(1,23)(1,25)(1,28)(2,11)(2,12)(2,13)(2,14)(2,15)(2,16)(2,18)(2,20)(2,22)(2,25)(2,27)(3,12)(3,14)(3,16)(3,18)(3,21)(3,24)(3,27)(4,12)(4,14)(4,16)(4,19)(4,23)(4,26)(4,29)(5,12)(5,14)(5,17)(5,21)(5,25)
(14,11)(16,11)(18,11)(20,11)(22,11)(24,11)(17,13)(19,13)(21,13)(23,13)(25,13)(20,15)(22,15)(24,15)(26,15)(28,15)(24,17)(26,17)(28,17)(30,17)(26,20)(28,20)(30,20)(32,20)(34,20)(30,24)(32,24)(34,24)(36,26)(39,28)(36,30)(41,33)(44,36)(46,40)(38,36)(30,28)(24,20)(20,19)(18,15)(16,13)
};
\addplot[mid] coordinates {
(11,11)(12,12)(13,12)(14,13)(15,14)(13,15)(15,16)(17,15)(18,17)(16,18)(14,18)(19,18)(21,18)(18,21)(20,21)(22,21)(24,22)(17,23)(21,25)(25,25)(28,26)(23,28)(27,29)(31,28)(29,32)(33,31)(35,34)(37,33)(39,38)(42,40)(44,43)(48,45)(52,50)(55,55)(60,58)(64,66)(70,68)(11,14)(12,17)(11,10)(10,10)(10,11)(10,12)(9,11)(9,9)(8,9)(8,10)(7,8)(7,9)(6,8)(6,9)(6.5,10)(6,10)(7,11)(8,12)(7,12)(6,12)(6,14)(7,14)(6,16)(7,17)(6,19)(6,21)(6,25)(5.5,9)
};
\addplot[lite] coordinates {
(1500,1050)(330,230)(260,270)(250,250)(255,240)(200,190)(195,170)(190,160)(220,105)(175,130)(155,150)(150,130)(140,120)(130,110)(125,100)(120,90)(110,115)(115,105)(105,100)(100,105)(95,95)(90,100)(85,105)(75,100)(80,90)(70,70)(95,70)(90,80)(100,80)(85,72)(105,85)(115,75)(125,78)(130,80)
(62,90)(58,85)(50,60)(52,55)(45,65)(42,50)(38,55)(34,50)(30,58)(28,45)(25,40)(22,50)(20,45)(15,42)(16,38)(14,35)(13,33)(11,38)(10,37)(9,36)(8,37)(7.5,36)(12,30)(14,30)(18,35)(22,34)(25,32)(28,32)(32,36)(36,42)(40,44)(45,46)(50,50)(55,48)(60,46)(65,50)(70,50)(75,55)(80,60)(85,48)(90,58)(80,44)(72,42)(65,38)(60,34)(55,32)(50,26)(45,28)(42,24)(38,22)(36,19)(40,30)(44,32)(48,38)(54,40)(58,44)
(32,26)(36,33)(28,28)(26,26)(22,27)(24,30)(20,30)(18,28)(16,26)(14,24)(12,22)(11,26)(10,20)(9,24)(8,22)(8,28)(7,26)(7,30)(6,30)(6,24)(6,36)(6,38)(5,36)(5,31)(5,28)(7,34)(6.5,33)(9,31)(10,28)(12,26)(13,22)(15,20)(17,18)(19,24)(21,23)(23,24)(27,24)(29,22)(32,18)(30,14)(28,13)(26,12)(24,9)(28,9)(32,14)(35,16)(26,8)(28,8)(30,9)(27,10)
(40,25)(44,22)(46,26)(50,31)(55,36)(60,40)(64,44)(68,46)(74,48)(30,38)(34,40)(38,44)(42,48)(46,52)(50,58)(54,66)(58,70)(64,60)(68,64)(72,60)(78,68)(82,66)(92,66)(96,62)(100,60)(66,54)(70,46)(76,60)(80,72)(86,84)(92,88)(98,92)(64,72)(60,62)(40,60)(25,55)(35,35)(45,40)(52,44)(56,52)(20,36)(15,30)(16,33)(18,22)(13,28)(12,16)(14,16)(16,17)(18,18)(10,15)(9,14)(8,12)(8,15)(7,12)(6,15)(6,12)(7,18)(8,19)(9,17)(10,12)(11,15)(7,10)(6,10)(7,9)(6,8)(6.5,9)(7.5,8)(8,9)(9,10)(8.5,10)
(9.5,12)(10.5,14)(11,19)(11.5,24)(12.5,29)(13,18)(13.5,35)(14.5,22)(15,27)(15.5,37)(16.5,16)(17,31)(17.5,22)(18.5,42)(19,27)(19.5,34)(20.5,19)(21,38)(21.5,29)(22.5,44)(23,25)(23.5,33)(24.5,40)(25,28)(25.5,48)(26.5,35)(27,42)(27.5,31)(28.5,52)(29,37)(29.5,28)(30.5,46)(31,33)(31.5,40)(32.5,55)(33,30)(33.5,44)(34.5,36)(35,62)(35.5,26)(36.5,48)(37,39)(37.5,70)(38.5,32)(39,52)(40,37)(41,60)(42,42)(43,34)(44,72)(45,54)(46,45)(47,78)(48,35)(49,62)(50,42)(51,70)(53,48)(55,85)(56,58)(57,38)(59,66)(61,52)(63,80)(65,60)(67,44)(69,72)(71,92)(73,55)(75,82)(77,65)(79,100)(81,76)(83,58)(87,92)(89,70)(93,100)(97,85)(101,105)(105,76)(109,92)(113,82)(118,98)(127,90)(135,100)(148,115)(165,130)(180,150)(210,180)(240,210)
(7,15)(7.5,22)(8,25)(8.5,31)(9,28)(9.5,20)(10,33)(10.5,23)(11,31)(12,35)(13,26)(14,20)(6.5,18)(6.5,26)(7.5,14)(8.5,17)(9,12)(12,19)(26,16)(30,20)(34,26)(38,28)(42,30)(46,34)(52,36)(58,40)(44,26)(48,30)(40,20)(35,22)(37,17)(33,16)(31,12)(29,11)(27,11)
(27,3)(26,4)(24,4)(28,6)(29,7)(28,8)(27,9)(24,2)(20,1)(18,1)(15,1)(16,0.6)(16,2)(21,3)(21,4)(17,2)(16,1)(14.5,0.6)
(0.6,7)(0.6,8)(0.6,9)(0.6,10)(0.6,11)(0.6,12)(0.6,13)(0.6,14)(2,30)(2,32)(3,33)(3,30)(4,33)(4,36)(5,33)
};
\node[font=\fontsize{24.5}{24.5}\selectfont,text=black,anchor=center] at (axis cs:1,105000) {B};
\end{axis}
\end{tikzpicture}
\end{document}
